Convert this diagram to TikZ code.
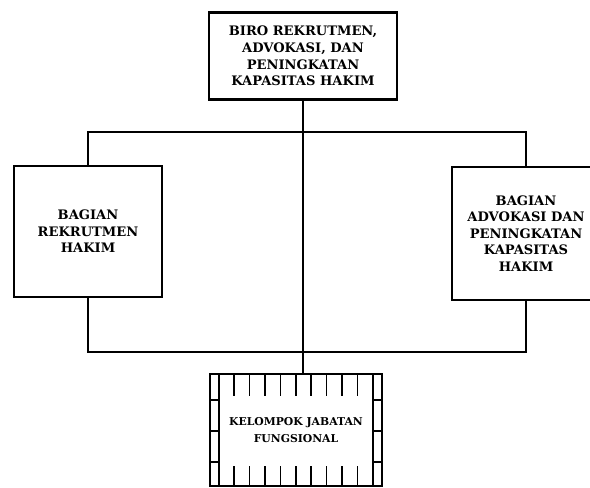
\documentclass[tikz,border=0pt]{standalone}
\usepackage{fontspec}
\newfontfamily\orgfont{DejaVu Serif}
\usepackage{tikz}
\usetikzlibrary{positioning, calc}

\begin{document}
\begin{tikzpicture}[
    x=0.025cm, y=-0.025cm,
    every node/.style={align=center},
    unit/.style={draw, line width=1.5pt, fill=white, inner sep=2pt,
                 font=\orgfont\bfseries\fontsize{9.3}{11.8}\selectfont},
    link/.style={line width=1.4pt},
    tick/.style={line width=1.1pt}
]
    \clip (0,0) rectangle (590,487);

    % Biro
    \node[unit, minimum width=4.7cm, minimum height=2.175cm] (biro) at (303,56) {
        BIRO REKRUTMEN,\\
        ADVOKASI, DAN\\
        PENINGKATAN\\
        KAPASITAS HAKIM
    };

    % Bagian kiri
    \node[unit, minimum width=3.7cm, minimum height=3.275cm] (kiri) at (88,231.5) {
        BAGIAN\\
        REKRUTMEN\\
        HAKIM
    };

    % Bagian kanan
    \node[unit, minimum width=3.7cm, minimum height=3.325cm] (kanan) at (526,233.5) {
        BAGIAN\\
        ADVOKASI DAN\\
        PENINGKATAN\\
        KAPASITAS\\
        HAKIM
    };

    % Kelompok jabatan fungsional
    \node[unit, line width=1.1pt, minimum width=4.3cm, minimum height=2.8cm,
          font=\orgfont\bfseries\fontsize{7.7}{12}\selectfont] (jabfung) at (296,430) {
        KELOMPOK JABATAN\\
        FUNGSIONAL
    };

    % Garis
    \draw[link] (biro.south) -- (biro.south |- jabfung.north);
    \draw[link, line width=1.1pt] (kiri.north) -- ++(0,-33) -| (kanan.north);
    \draw[link] (kiri.south) -- ++(0,54) -| (kanan.south);

    % Hiasan kotak fungsional
    \draw[tick] ([xshift=0.25cm]jabfung.north west) -- ([xshift=0.25cm]jabfung.south west);
    \draw[tick] ([xshift=-0.25cm]jabfung.north east) -- ([xshift=-0.25cm]jabfung.south east);
    \foreach \y in {27,58,89} {
        \draw[tick] ([yshift=-\y*0.025cm]jabfung.north west) -- ++(10,0);
        \draw[tick] ([yshift=-\y*0.025cm]jabfung.north east) -- ++(-10,0);
    }
    \foreach \i in {0,...,8} {
        \draw[tick] ($(jabfung.north west)+(25+15.4*\i,0)$) -- ++(0,23);
        \draw[tick] ($(jabfung.south west)+(25+15.4*\i,0)$) -- ++(0,-21);
    }
\end{tikzpicture}
\end{document}
